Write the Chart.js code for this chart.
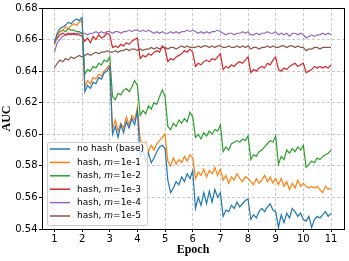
<!DOCTYPE html>
<html>
<head>
<meta charset="utf-8">
<script src="https://cdn.jsdelivr.net/npm/chart.js@4.4.1/dist/chart.umd.min.js"></script>
<style>
  body { margin: 0; background: #fff; }
  #box { width: 349px; height: 261px; }
</style>
</head>
<body>
<div id="box"><canvas id="aucChart" width="349" height="261"></canvas></div>
<script>
// evaluation points: 10 per epoch, from epoch 1 to 11
const epochs = [];
for (let i = 0; i <= 100; i++) epochs.push(1 + i / 10);

const xTicks = [1, 2, 3, 4, 5, 6, 7, 8, 9, 10, 11];
const yTicks = [0.54, 0.56, 0.58, 0.60, 0.62, 0.64, 0.66, 0.68];

const seriesLabels = ["no hash (base)", "hash, m=1e-1", "hash, m=1e-2", "hash, m=1e-3", "hash, m=1e-4", "hash, m=1e-5"];
const seriesColors = ["#1f77b4", "#ff7f0e", "#2ca02c", "#d62728", "#9467bd", "#8c564b"];

const noHash = [0.658,
  0.664, 0.667, 0.668, 0.669, 0.671, 0.670, 0.672, 0.673, 0.672, 0.674,
  0.627, 0.631, 0.629, 0.633, 0.632, 0.636, 0.635, 0.639, 0.640, 0.643,
  0.600, 0.605, 0.598, 0.606, 0.601, 0.608, 0.604, 0.610, 0.606, 0.615,
  0.586, 0.590, 0.583, 0.588, 0.582, 0.585, 0.589, 0.592, 0.593, 0.591,
  0.571, 0.563, 0.566, 0.570, 0.568, 0.573, 0.570, 0.575, 0.572, 0.577,
  0.553, 0.560, 0.555, 0.563, 0.556, 0.564, 0.557, 0.565, 0.560, 0.563,
  0.548, 0.552, 0.551, 0.555, 0.553, 0.557, 0.554, 0.556, 0.558, 0.559,
  0.546, 0.549, 0.547, 0.551, 0.553, 0.551, 0.554, 0.556, 0.552, 0.551,
  0.541, 0.549, 0.544, 0.550, 0.547, 0.553, 0.551, 0.548, 0.550, 0.546,
  0.545, 0.548, 0.541, 0.546, 0.548, 0.547, 0.549, 0.551, 0.548, 0.550];

const hash1 = [0.657,
  0.663, 0.665, 0.666, 0.668, 0.667, 0.669, 0.670, 0.669, 0.671, 0.672,
  0.630, 0.634, 0.632, 0.636, 0.635, 0.638, 0.637, 0.640, 0.642, 0.644,
  0.603, 0.609, 0.602, 0.607, 0.604, 0.611, 0.606, 0.612, 0.609, 0.617,
  0.597, 0.592, 0.595, 0.589, 0.593, 0.590, 0.594, 0.596, 0.598, 0.600,
  0.583, 0.580, 0.585, 0.581, 0.584, 0.582, 0.586, 0.583, 0.587, 0.585,
  0.572, 0.576, 0.574, 0.578, 0.573, 0.577, 0.575, 0.579, 0.574, 0.578,
  0.571, 0.574, 0.569, 0.573, 0.571, 0.575, 0.572, 0.570, 0.573, 0.572,
  0.570, 0.568, 0.572, 0.569, 0.571, 0.574, 0.570, 0.573, 0.569, 0.572,
  0.568, 0.572, 0.567, 0.570, 0.565, 0.569, 0.566, 0.571, 0.567, 0.569,
  0.567, 0.566, 0.567, 0.566, 0.567, 0.565, 0.563, 0.567, 0.565, 0.566];

const hash2 = [0.657,
  0.663, 0.665, 0.666, 0.665, 0.667, 0.666, 0.666, 0.665, 0.665, 0.664,
  0.638, 0.641, 0.640, 0.643, 0.642, 0.645, 0.644, 0.647, 0.646, 0.649,
  0.624, 0.622, 0.626, 0.625, 0.628, 0.629, 0.627, 0.630, 0.634, 0.631,
  0.612, 0.615, 0.613, 0.618, 0.616, 0.620, 0.619, 0.624, 0.628, 0.624,
  0.605, 0.603, 0.607, 0.605, 0.609, 0.607, 0.610, 0.608, 0.614, 0.611,
  0.598, 0.600, 0.597, 0.601, 0.599, 0.602, 0.600, 0.603, 0.602, 0.606,
  0.589, 0.592, 0.590, 0.594, 0.595, 0.596, 0.595, 0.597, 0.596, 0.599,
  0.584, 0.587, 0.586, 0.589, 0.590, 0.592, 0.594, 0.596, 0.595, 0.599,
  0.581, 0.586, 0.584, 0.590, 0.588, 0.591, 0.589, 0.592, 0.590, 0.593,
  0.579, 0.581, 0.583, 0.582, 0.585, 0.584, 0.586, 0.587, 0.588, 0.590];

const hash3 = [0.658,
  0.661, 0.663, 0.664, 0.663, 0.664, 0.663, 0.664, 0.663, 0.663, 0.662,
  0.659, 0.661, 0.658, 0.662, 0.660, 0.663, 0.661, 0.662, 0.664, 0.663,
  0.655, 0.656, 0.655, 0.657, 0.656, 0.658, 0.657, 0.659, 0.660, 0.661,
  0.648, 0.650, 0.649, 0.651, 0.650, 0.652, 0.653, 0.652, 0.656, 0.654,
  0.646, 0.648, 0.647, 0.649, 0.650, 0.651, 0.653, 0.652, 0.654, 0.652,
  0.643, 0.645, 0.644, 0.646, 0.647, 0.646, 0.648, 0.647, 0.649, 0.651,
  0.641, 0.643, 0.642, 0.644, 0.643, 0.645, 0.646, 0.645, 0.647, 0.649,
  0.639, 0.641, 0.640, 0.642, 0.643, 0.642, 0.645, 0.644, 0.647, 0.649,
  0.641, 0.640, 0.642, 0.641, 0.643, 0.644, 0.645, 0.643, 0.644, 0.645,
  0.639, 0.640, 0.641, 0.643, 0.642, 0.643, 0.642, 0.643, 0.642, 0.644];

const hash4 = [0.652,
  0.658, 0.660, 0.662, 0.663, 0.663, 0.664, 0.663, 0.664, 0.664, 0.664,
  0.664, 0.663, 0.664, 0.664, 0.665, 0.664, 0.665, 0.664, 0.665, 0.665,
  0.664, 0.665, 0.665, 0.664, 0.665, 0.665, 0.666, 0.665, 0.666, 0.666,
  0.665, 0.666, 0.665, 0.666, 0.665, 0.664, 0.665, 0.664, 0.665, 0.664,
  0.664, 0.665, 0.664, 0.665, 0.664, 0.665, 0.665, 0.666, 0.665, 0.666,
  0.665, 0.664, 0.665, 0.664, 0.665, 0.664, 0.665, 0.665, 0.666, 0.665,
  0.664, 0.663, 0.664, 0.664, 0.663, 0.664, 0.664, 0.665, 0.664, 0.665,
  0.663, 0.663, 0.664, 0.663, 0.664, 0.664, 0.665, 0.664, 0.664, 0.665,
  0.663, 0.664, 0.663, 0.664, 0.662, 0.664, 0.664, 0.663, 0.664, 0.663,
  0.661, 0.662, 0.663, 0.662, 0.663, 0.663, 0.664, 0.663, 0.664, 0.663];

const hash5 = [0.642,
  0.645, 0.647, 0.646, 0.648, 0.647, 0.649, 0.648, 0.649, 0.650, 0.649,
  0.650, 0.651, 0.650, 0.651, 0.652, 0.651, 0.652, 0.652, 0.653, 0.652,
  0.652, 0.653, 0.652, 0.653, 0.653, 0.654, 0.653, 0.654, 0.654, 0.653,
  0.654, 0.653, 0.654, 0.654, 0.655, 0.654, 0.655, 0.654, 0.655, 0.655,
  0.654, 0.655, 0.655, 0.654, 0.655, 0.656, 0.655, 0.656, 0.655, 0.655,
  0.655, 0.656, 0.655, 0.656, 0.656, 0.655, 0.656, 0.655, 0.656, 0.656,
  0.655, 0.655, 0.656, 0.655, 0.655, 0.656, 0.655, 0.656, 0.655, 0.656,
  0.654, 0.655, 0.655, 0.654, 0.655, 0.655, 0.656, 0.655, 0.656, 0.655,
  0.655, 0.656, 0.656, 0.655, 0.656, 0.656, 0.655, 0.656, 0.655, 0.655,
  0.653, 0.654, 0.654, 0.655, 0.655, 0.654, 0.655, 0.655, 0.655, 0.655];

const allSeries = [noHash, hash1, hash2, hash3, hash4, hash5];

const tickFont = { family: "DejaVu Sans", size: 10 };
const titleFont = { family: "Liberation Serif", size: 12, weight: "bold" };
const gridColor = "rgba(176,176,176,0.85)";

// frame around the plot + matplotlib-like legend (italic m)
const framePlugin = {
    id: "frameAndLegend",
    afterDraw(chart) {
        const ctx = chart.ctx;
        const a = chart.chartArea;
        ctx.save();
        ctx.strokeStyle = "#000";
        ctx.lineWidth = 1;
        ctx.strokeRect(Math.round(a.left) + 0.5, Math.round(a.top) + 0.5,
            Math.round(a.right - a.left), Math.round(a.bottom - a.top));

        const bx = 47, by = 142, bw = 100, bh = 83;
        ctx.beginPath();
        ctx.roundRect(bx + 0.5, by + 0.5, bw, bh, 2);
        ctx.fillStyle = "rgba(255,255,255,0.8)";
        ctx.fill();
        ctx.strokeStyle = "#cccccc";
        ctx.stroke();

        const normal = '9px "DejaVu Sans"';
        const italic = 'italic 9px "DejaVu Sans"';
        ctx.textBaseline = "middle";
        chart.data.datasets.forEach((ds, i) => {
            const y = 149 + i * 13.4;
            ctx.strokeStyle = ds.borderColor;
            ctx.lineWidth = 1.5;
            ctx.beginPath();
            ctx.moveTo(50, y);
            ctx.lineTo(70, y);
            ctx.stroke();

            ctx.fillStyle = "#000";
            let x = 77;
            const m = ds.label.match(/^(.*, )(m)(=.*)$/);
            const parts = m ? [[m[1], normal], [m[2], italic], [m[3], normal]] : [[ds.label, normal]];
            parts.forEach(([txt, f]) => {
                ctx.font = f;
                ctx.fillText(txt, x, y);
                x += ctx.measureText(txt).width;
            });
        });
        ctx.restore();
    }
};

const ctx = document.getElementById("aucChart").getContext("2d");
const aucChart = new Chart(ctx, {
    type: "line",
    data: {
        datasets: allSeries.map((values, k) => ({
            label: seriesLabels[k],
            data: values.map((v, i) => ({ x: epochs[i], y: v })),
            borderColor: seriesColors[k],
            borderWidth: 1.2,
            pointRadius: 0,
            fill: false,
            tension: 0
        }))
    },
    options: {
        responsive: false,
        animation: false,
        layout: { padding: { top: 8, right: 5, left: 0, bottom: 0 } },
        plugins: { legend: { display: false }, tooltip: { enabled: false } },
        scales: {
            x: {
                type: "linear",
                min: 0.55,
                max: 11.47,
                afterBuildTicks: (scale) => { scale.ticks = xTicks.map(v => ({ value: v })); },
                afterFit: (scale) => { scale.height = 32; },
                ticks: { font: tickFont, color: "#000", padding: 1, maxRotation: 0, callback: (v) => v },
                grid: { color: gridColor, lineWidth: 0.8, tickColor: "#000", tickLength: 3, tickWidth: 1, tickBorderDash: [] },
                border: { display: false, dash: [3, 2] },
                title: { display: true, text: "Epoch", font: titleFont, color: "#000", padding: { top: 0, bottom: 4 } }
            },
            y: {
                min: 0.54,
                max: 0.68,
                afterBuildTicks: (scale) => { scale.ticks = yTicks.map(v => ({ value: v })); },
                afterFit: (scale) => { scale.width = 42; },
                ticks: { font: tickFont, color: "#000", padding: 1.5, callback: (v) => v.toFixed(2) },
                grid: { color: gridColor, lineWidth: 0.8, tickColor: "#000", tickLength: 3, tickWidth: 1, tickBorderDash: [] },
                border: { display: false, dash: [3, 2] },
                title: { display: true, text: "AUC", font: titleFont, color: "#000", padding: { top: 0, bottom: 0 } }
            }
        }
    },
    plugins: [framePlugin]
});
</script>
</body>
</html>
